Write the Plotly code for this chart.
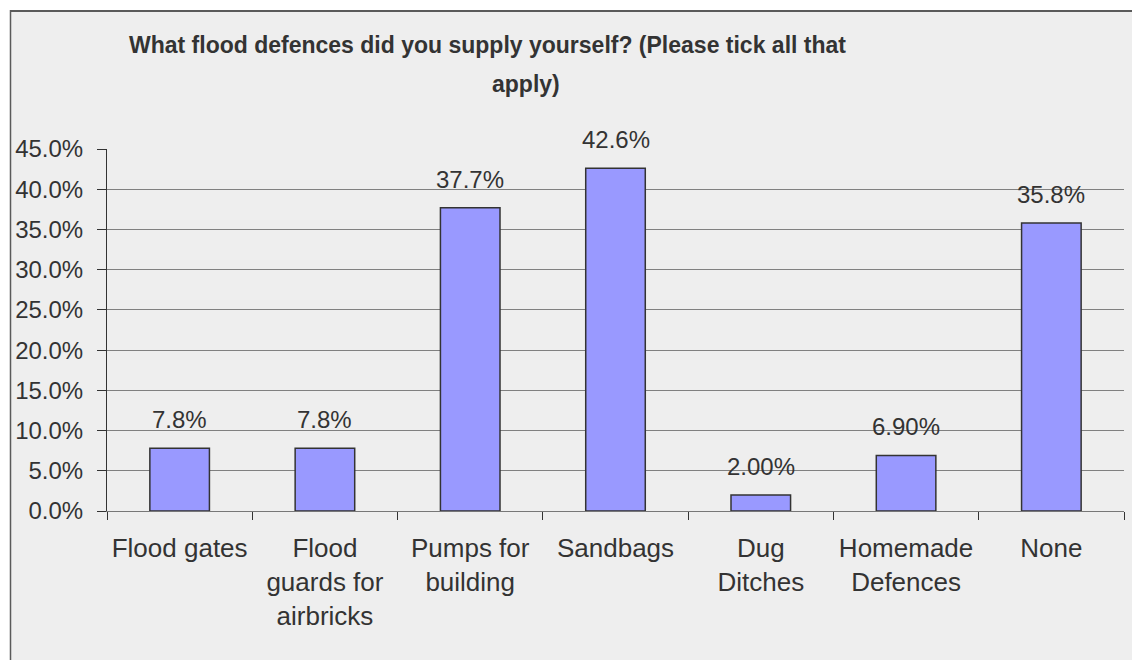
import plotly.graph_objects as go

# Survey responses: share of respondents using each self-supplied defence
categories = [
    "Flood gates",
    "Flood<br>guards for<br>airbricks",
    "Pumps for<br>building",
    "Sandbags",
    "Dug<br>Ditches",
    "Homemade<br>Defences",
    "None",
]
values = [0.078, 0.078, 0.377, 0.426, 0.020, 0.069, 0.358]
value_labels = ["7.8%", "7.8%", "37.7%", "42.6%", "2.00%", "6.90%", "35.8%"]
title_lines = [
    "What flood defences did you supply yourself? (Please tick all that",
    "apply)",
]

W, H = 1132, 660
L, R, T, B = 107, 8, 149, 149
PW, PH = W - L - R, H - T - B

def px_x(px):
    return (px - L) / PW

def px_y(py):
    return (H - B - py) / PH

FONT = "Liberation Sans, Arial, sans-serif"
TXT = "#333333"
PANEL = "#eeeeee"

fig = go.Figure()
fig.add_trace(go.Bar(
    x=categories,
    y=values,
    width=0.41,
    marker=dict(color="#9999ff", line=dict(color="#333333", width=1.5)),
    hoverinfo="skip",
))

# value labels above each bar
for c, v, lab in zip(categories, values, value_labels):
    fig.add_annotation(
        x=c, y=v, xref="x", yref="y", text=lab, showarrow=False,
        yanchor="bottom", yshift=13,
        font=dict(family=FONT, size=24, color=TXT),
    )

# two-line chart heading
fig.add_annotation(
    x=px_x(487), y=px_y(45), xref="paper", yref="paper",
    text="<b>" + title_lines[0] + "</b>", showarrow=False,
    xanchor="center", yanchor="middle",
    font=dict(family=FONT, size=23, color=TXT),
)
fig.add_annotation(
    x=px_x(526), y=px_y(84), xref="paper", yref="paper",
    text="<b>" + title_lines[1] + "</b>", showarrow=False,
    xanchor="center", yanchor="middle",
    font=dict(family=FONT, size=23, color=TXT),
)

# chart panel with its top and left border
fig.add_shape(
    type="rect", xref="paper", yref="paper", layer="below",
    x0=px_x(10), x1=px_x(W), y0=px_y(H), y1=px_y(10),
    fillcolor=PANEL, line=dict(width=0, color="rgba(0,0,0,0)"),
)
fig.add_shape(
    type="line", xref="paper", yref="paper",
    x0=px_x(10), x1=px_x(W), y0=px_y(11), y1=px_y(11),
    line=dict(color="#5a5a5a", width=2),
)
fig.add_shape(
    type="line", xref="paper", yref="paper",
    x0=px_x(10.5), x1=px_x(10.5), y0=px_y(10), y1=px_y(H),
    line=dict(color="#5a5a5a", width=1.5),
)

fig.update_layout(
    width=W, height=H,
    margin=dict(l=L, r=R, t=T, b=B, pad=0),
    paper_bgcolor="white",
    plot_bgcolor=PANEL,
    showlegend=False,
    bargap=0.59,
)
fig.update_xaxes(
    type="category",
    tickson="boundaries",
    ticks="outside", ticklen=8, tickcolor="#333333", tickwidth=1,
    showline=True, linecolor="#777777", linewidth=1,
    showgrid=False,
    tickfont=dict(family=FONT, size=26, color=TXT),
    ticklabelstandoff=14,
)
fig.update_yaxes(
    range=[0, 0.45], dtick=0.05, tickformat=".1%",
    ticks="outside", ticklen=9, tickcolor="#333333", tickwidth=1,
    showline=True, linecolor="#333333", linewidth=1,
    showgrid=True, gridcolor="#808080", gridwidth=1,
    zeroline=False,
    tickfont=dict(family=FONT, size=24, color=TXT),
    ticklabelstandoff=9,
)

fig.write_html("out.html")
